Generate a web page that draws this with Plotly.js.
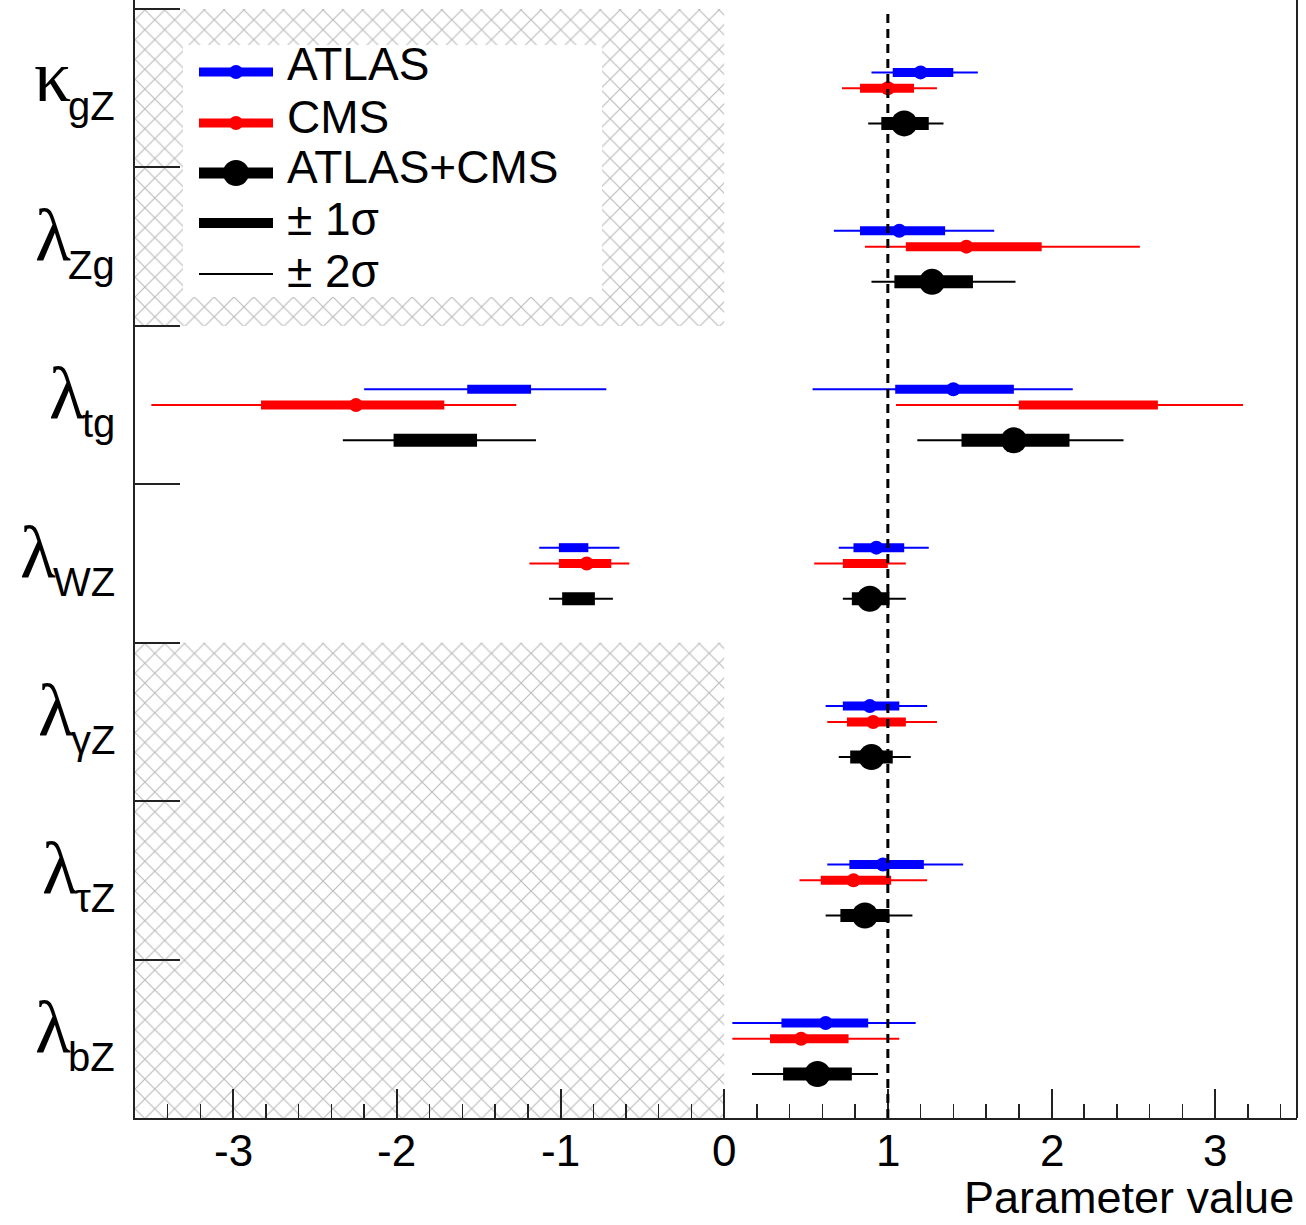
<!DOCTYPE html>
<html>
<head>
<meta charset="utf-8">
<script src="https://cdn.plot.ly/plotly-3.0.1.min.js"></script>
<style>
  html, body { margin: 0; padding: 0; background: #ffffff; }
  #chart { width: 1306px; height: 1225px; }
</style>
</head>
<body>
<div id="chart"></div>
<script>
// ---------------- data ----------------
// parameters, top to bottom
const paramGreek = ['κ', 'λ', 'λ', 'λ', 'λ', 'λ', 'λ'];
const paramSub   = ['gZ', 'Zg', 'tg', 'WZ', 'γZ', 'τZ', 'bZ'];

// ATLAS intervals (param index, -2σ, -1σ, best fit, +1σ, +2σ)
const atlasParam = [0, 1, 2, 2, 3, 3, 4, 5, 6];
const atlasLo2   = [0.90, 0.67, -2.20, 0.54, -1.13, 0.70, 0.62, 0.63, 0.05];
const atlasLo1   = [1.03, 0.83, -1.57, 1.045, -1.01, 0.79, 0.725, 0.765, 0.35];
const atlasBest  = [1.20, 1.07, null, 1.40, null, 0.93, 0.89, 0.97, 0.62];
const atlasHi1   = [1.40, 1.35, -1.18, 1.77, -0.83, 1.10, 1.07, 1.22, 0.88];
const atlasHi2   = [1.55, 1.65, -0.72, 2.13, -0.64, 1.25, 1.24, 1.46, 1.17];

// CMS intervals
const cmsParam = [0, 1, 2, 2, 3, 3, 4, 5, 6];
const cmsLo2   = [0.72, 0.86, -3.50, 1.05, -1.19, 0.55, 0.63, 0.46, 0.05];
const cmsLo1   = [0.83, 1.11, -2.83, 1.80, -1.01, 0.725, 0.75, 0.59, 0.28];
const cmsBest  = [1.00, 1.48, -2.25, null, -0.84, null, 0.91, 0.79, 0.47];
const cmsHi1   = [1.16, 1.94, -1.71, 2.65, -0.69, 1.00, 1.11, 1.02, 0.76];
const cmsHi2   = [1.30, 2.54, -1.27, 3.17, -0.58, 1.11, 1.30, 1.24, 1.07];

// ATLAS+CMS intervals
const combParam = [0, 1, 2, 2, 3, 3, 4, 5, 6];
const combLo2   = [0.88, 0.90, -2.33, 1.18, -1.07, 0.725, 0.70, 0.62, 0.17];
const combLo1   = [0.96, 1.04, -2.02, 1.45, -0.99, 0.78, 0.77, 0.71, 0.36];
const combBest  = [1.10, 1.27, null, 1.77, null, 0.89, 0.90, 0.86, 0.57];
const combHi1   = [1.25, 1.52, -1.51, 2.11, -0.79, 1.01, 1.03, 1.01, 0.78];
const combHi2   = [1.34, 1.78, -1.15, 2.44, -0.68, 1.11, 1.14, 1.15, 0.94];

// excluded (hatched) regions: [xmin, xmax, first param, last param]
const hatchX0 = [-3.6, -3.6];
const hatchX1 = [0, 0];
const hatchFirst = [0, 4];
const hatchLast  = [1, 6];

const smValue = 1;   // Standard Model expectation
const xTickVals = [-3, -2, -1, 0, 1, 2, 3];
const xTickText = ['-3', '-2', '-1', '0', '1', '2', '3'];
const xTitle = 'Parameter value';
const legendLabels = ['ATLAS', 'CMS', 'ATLAS+CMS', '± 1σ', '± 2σ'];

// ---------------- layout helpers ----------------
const NP = paramGreek.length;
const W = 1306, H = 1225;
const M = {l: 135, r: 9, t: 0, b: 107};
const PW = W - M.l - M.r, PH = H - M.t - M.b;
const yRange = [0, NP + 0.057];
const centerOf = i => NP - 0.5 - i;
const px2x = px => (px - M.l) / PW;
const px2y = py => (H - M.b - py) / PH;

const FONT = 'Liberation Sans, Arial, sans-serif';

function segs(param, lo, hi, off) {
  const x = [], y = [];
  for (let k = 0; k < param.length; k++) {
    const yy = centerOf(param[k]) + off;
    x.push(lo[k], hi[k], null);
    y.push(yy, yy, null);
  }
  return {x, y};
}
function pts(param, best, off) {
  const x = [], y = [];
  for (let k = 0; k < param.length; k++) {
    if (best[k] === null) continue;
    x.push(best[k]); y.push(centerOf(param[k]) + off);
  }
  return {x, y};
}

const traces = [];
// hatched regions
for (let h = 0; h < hatchX0.length; h++) {
  const yb = NP - 1 - hatchLast[h], yt = NP - hatchFirst[h];
  traces.push({
    x: [hatchX0[h], hatchX1[h], hatchX1[h], hatchX0[h], hatchX0[h]],
    y: [yb, yb, yt, yt, yb],
    mode: 'lines', fill: 'toself', line: {width: 0, color: 'rgba(0,0,0,0)'},
    fillcolor: 'rgba(0,0,0,0)',
    fillpattern: {shape: 'x', size: 14, solidity: 0.16, fgcolor: '#bdbdbd', bgcolor: '#ffffff'},
    hoverinfo: 'skip', showlegend: false
  });
}

const series = [
  {name: 'ATLAS', color: '#0000ff', off: 0.10, param: atlasParam, lo2: atlasLo2, lo1: atlasLo1, best: atlasBest, hi1: atlasHi1, hi2: atlasHi2, w1: 9, ms: 14},
  {name: 'CMS', color: '#ff0000', off: 0.0, param: cmsParam, lo2: cmsLo2, lo1: cmsLo1, best: cmsBest, hi1: cmsHi1, hi2: cmsHi2, w1: 9, ms: 14},
  {name: 'ATLAS+CMS', color: '#000000', off: -0.222, param: combParam, lo2: combLo2, lo1: combLo1, best: combBest, hi1: combHi1, hi2: combHi2, w1: 13, ms: 26}
];
series.forEach(s => {
  const s2 = segs(s.param, s.lo2, s.hi2, s.off);
  traces.push({x: s2.x, y: s2.y, mode: 'lines', line: {color: s.color, width: 2}, hoverinfo: 'skip', showlegend: false});
  const s1 = segs(s.param, s.lo1, s.hi1, s.off);
  traces.push({x: s1.x, y: s1.y, mode: 'lines', line: {color: s.color, width: s.w1}, hoverinfo: 'skip', showlegend: false});
  const p = pts(s.param, s.best, s.off);
  traces.push({x: p.x, y: p.y, mode: 'markers', marker: {color: s.color, size: s.ms, line: {width: 0}}, name: s.name, showlegend: false});
});

// ---------------- shapes ----------------
const shapes = [];
// SM dashed line
shapes.push({type: 'line', xref: 'x', yref: 'y', x0: smValue, x1: smValue, y0: 0, y1: NP,
  line: {color: '#000', width: 3, dash: '9px,6px'}, layer: 'above'});
// right frame
shapes.push({type: 'line', xref: 'paper', yref: 'paper', x0: 1, x1: 1, y0: 0, y1: 1,
  line: {color: '#222', width: 2}, layer: 'above'});
// legend box
shapes.push({type: 'rect', xref: 'paper', yref: 'paper', x0: px2x(183), x1: px2x(602), y0: px2y(297), y1: px2y(45),
  fillcolor: '#ffffff', line: {width: 0}, layer: 'above'});

const annotations = [];
const legLineY = [72, 123, 173, 223, 274];
const legTextY = [64, 117, 167, 219, 271];
const legColor = ['#0000ff', '#ff0000', '#000000', '#000000', '#000000'];
const legWidth = [9, 9, 11, 10, 2];
const legDot = [14, 14, 26, 0, 0];
for (let i = 0; i < legendLabels.length; i++) {
  shapes.push({type: 'line', xref: 'paper', yref: 'paper', x0: px2x(199), x1: px2x(273), y0: px2y(legLineY[i]), y1: px2y(legLineY[i]),
    line: {color: legColor[i], width: legWidth[i]}, layer: 'above'});
  if (legDot[i] > 0) {
    const r = legDot[i] / 2;
    shapes.push({type: 'circle', xref: 'paper', yref: 'paper', xsizemode: 'pixel', ysizemode: 'pixel',
      xanchor: px2x(236), yanchor: px2y(legLineY[i]), x0: -r, x1: r, y0: -r, y1: r,
      fillcolor: legColor[i], line: {width: 0}, layer: 'above'});
  }
  annotations.push({xref: 'paper', yref: 'paper', x: px2x(287), y: px2y(legTextY[i]), xanchor: 'left', yanchor: 'middle',
    xshift: -2, text: legendLabels[i], showarrow: false, font: {family: FONT, size: 46, color: '#000'}});
}

// y labels: Greek letter + subscript
const cv = document.createElement('canvas').getContext('2d');
cv.font = '40px "Liberation Sans"';
for (let i = 0; i < NP; i++) {
  const sw = cv.measureText(paramSub[i]).width;
  annotations.push({xref: 'paper', yref: 'y', x: 0, y: centerOf(i), xanchor: 'right', yanchor: 'middle',
    xshift: -18, yshift: -18, text: paramSub[i], showarrow: false, font: {family: FONT, size: 40, color: '#000'}});
  annotations.push({xref: 'paper', yref: 'y', x: 0, y: centerOf(i), xanchor: 'right', yanchor: 'middle',
    xshift: -18 - sw + 3, yshift: 12, text: paramGreek[i], showarrow: false,
    font: {family: 'Liberation Serif, serif', size: 74, color: '#000'}});
}
// x tick labels
for (let k = 0; k < xTickVals.length; k++) {
  annotations.push({xref: 'x', yref: 'paper', x: xTickVals[k], y: px2y(1150), xanchor: 'center', yanchor: 'middle',
    text: xTickText[k], showarrow: false, font: {family: FONT, size: 44, color: '#000'}});
}
// x title
annotations.push({xref: 'paper', yref: 'paper', x: 1, y: px2y(1197), xanchor: 'right', yanchor: 'middle', xshift: -1,
  text: xTitle, showarrow: false, font: {family: FONT, size: 45, color: '#000'}});

const layout = {
  width: W, height: H,
  margin: M,
  paper_bgcolor: '#ffffff', plot_bgcolor: '#ffffff',
  showlegend: false,
  xaxis: {
    range: [-3.6, 3.5], tickmode: 'array', tickvals: xTickVals, showticklabels: false,
    ticks: 'inside', ticklen: 29, tickwidth: 2, tickcolor: '#222',
    minor: {tickmode: 'linear', tick0: 0, dtick: 0.2, ticks: 'inside', ticklen: 14, tickwidth: 1.5, tickcolor: '#222', showgrid: false},
    showline: true, linewidth: 2, linecolor: '#222', mirror: false,
    showgrid: false, zeroline: false
  },
  yaxis: {
    range: yRange, tickmode: 'array', tickvals: Array.from({length: NP + 1}, (_, k) => k),
    ticks: 'inside', ticklen: 45, tickwidth: 2, tickcolor: '#222', showticklabels: false,
    showline: true, linewidth: 2, linecolor: '#222', mirror: false,
    showgrid: false, zeroline: false
  },
  shapes: shapes,
  annotations: annotations
};

Plotly.newPlot('chart', traces, layout, {staticPlot: true, displayModeBar: false});
</script>
</body>
</html>
